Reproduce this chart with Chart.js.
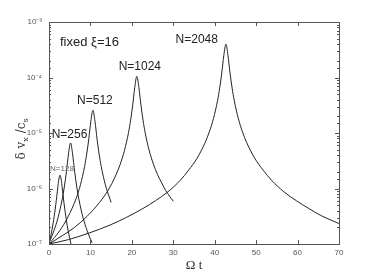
<!DOCTYPE html>
<html>
<head>
<meta charset="utf-8">
<script src="https://cdn.jsdelivr.net/npm/chart.js@4.4.1/dist/chart.umd.min.js"></script>
<style>
  html, body { margin: 0; padding: 0; background: #fff; }
  #wrap { width: 374px; height: 275px; }
</style>
</head>
<body>
<div id="wrap"><canvas id="chart"></canvas></div>
<script>
// Omega t (x) and delta v_x / c_s (y)
const xTickValues = [0, 10, 20, 30, 40, 50, 60, 70]
const yTickLabels = { "-7": "10⁻⁷", "-6": "10⁻⁶", "-5": "10⁻⁵", "-4": "10⁻⁴", "-3": "10⁻³" }

const t128 = [0, 0.5, 1, 1.5, 2, 2.3, 2.65, 3.0, 3.3, 3.65, 4.15, 4.65, 5.3]
const v128 = [1e-7, 1.48e-7, 2.4e-7, 4.27e-7, 8.7e-7, 1.35e-6, 1.74e-6, 1.35e-6, 8.7e-7, 5.25e-7, 2.82e-7, 1.7e-7, 1e-7]

const t256 = [0, 1.2, 2.2, 3.2, 3.7, 4.2, 4.7, 5.2, 5.7, 6.2, 6.7, 7.2, 8.2, 9.2, 10.4]
const v256 = [1.05e-7, 1.74e-7, 3.02e-7, 6.46e-7, 1.07e-6, 2.0e-6, 4.17e-6, 6.6e-6, 4.17e-6, 2.0e-6, 1.07e-6, 6.46e-7, 3.02e-7, 1.74e-7, 1.05e-7]

const t512 = [0, 2.6, 4.6, 6.6, 7.6, 8.6, 9.1, 9.6, 10.1, 10.6, 11.1, 11.6, 12.1, 12.6, 13.6, 15.0]
const v512 = [1e-7, 1.74e-7, 3.09e-7, 6.76e-7, 1.17e-6, 2.51e-6, 4.17e-6, 7.76e-6, 1.62e-5, 2.57e-5, 1.62e-5, 7.76e-6, 4.17e-6, 2.51e-6, 1.17e-6, 5.6e-7]

const t1024 = [0, 3.2, 6.2, 9.2, 12.2, 14.2, 16.2, 17.2, 18.2, 19.2, 19.7, 20.2, 20.7, 21.2, 21.7, 22.2, 22.7, 23.2, 24.2, 25.2, 26.2, 27.2, 28.2, 30.0]
const v1024 = [1e-7, 1.41e-7, 2.0e-7, 3.16e-7, 5.62e-7, 9.12e-7, 1.78e-6, 2.75e-6, 4.79e-6, 1.02e-5, 1.7e-5, 3.16e-5, 6.61e-5, 1.05e-4, 6.61e-5, 3.16e-5, 1.7e-5, 1.02e-5, 4.79e-6, 2.75e-6, 1.78e-6, 1.26e-6, 9.12e-7, 5.89e-7]

const t2048 = [0, 4.7, 9.7, 14.7, 18.7, 22.7, 25.7, 28.7, 31.7, 33.7, 35.7, 37.7, 38.7, 39.7, 40.7, 41.2, 41.7, 42.2, 42.7, 43.2, 43.7, 44.2, 44.7, 45.7, 46.7, 47.7, 49.7, 51.7, 53.7, 56.7, 59.7, 62.7, 65.7, 70]
const v2048 = [1e-7, 1.2e-7, 1.58e-7, 2.19e-7, 3.02e-7, 4.37e-7, 6.03e-7, 8.71e-7, 1.41e-6, 2.14e-6, 3.47e-6, 6.76e-6, 1.05e-5, 1.82e-5, 3.89e-5, 6.46e-5, 1.2e-4, 2.51e-4, 3.98e-4, 2.51e-4, 1.2e-4, 6.46e-5, 3.89e-5, 1.82e-5, 1.05e-5, 6.76e-6, 3.47e-6, 2.14e-6, 1.41e-6, 8.71e-7, 6.03e-7, 4.37e-7, 3.24e-7, 2.34e-7]

const seriesNames = ["N=128", "N=256", "N=512", "N=1024", "N=2048"]
const seriesTimes = [t128, t256, t512, t1024, t2048]
const seriesValues = [v128, v256, v512, v1024, v2048]

const toPoints = (ts, vs) => ts.map((t, i) => ({ x: t, y: vs[i] }))

// label placement relative to each peak: [dx, dy, align, size, color]
const peakLabelStyle = [
  [2, -6, "center", 8, "#666"],
  [-1, -8, "center", 12, "#222"],
  [2, -10, "center", 12, "#222"],
  [3, -10, "center", 12, "#222"],
  [-8, -5, "right", 12, "#222"]
]

const annotations = {
  id: "annotations",
  afterDatasetsDraw(chart) {
    const { ctx, chartArea, scales } = chart
    ctx.save()
    ctx.textBaseline = "middle"

    // peak labels
    seriesNames.forEach((name, i) => {
      const vals = seriesValues[i]
      const k = vals.indexOf(Math.max(...vals))
      const px = scales.x.getPixelForValue(seriesTimes[i][k])
      const py = scales.y.getPixelForValue(vals[k])
      const [dx, dy, align, size, color] = peakLabelStyle[i]
      ctx.font = size + "px 'Liberation Sans', Arial, sans-serif"
      ctx.fillStyle = color
      ctx.textAlign = align
      ctx.fillText(name, px + dx, py + dy)
    })

    ctx.font = "13px 'Liberation Sans', Arial, sans-serif"
    ctx.fillStyle = "#222"
    ctx.textAlign = "left"
    ctx.fillText("fixed ξ=16", chartArea.left + 11, chartArea.top + 20)

    // y axis title with subscripts
    ctx.translate(22, (chartArea.top + chartArea.bottom) / 2 + 6)
    ctx.rotate(-Math.PI / 2)
    ctx.fillStyle = "#333"
    ctx.textAlign = "left"
    const parts = [["δ v", 12, 0], ["x", 8, 4], [" /c", 12, 0], ["s", 8, 4]]
    let total = 0
    parts.forEach(([s, size]) => {
      ctx.font = size + "px 'DejaVu Serif', serif"
      total += ctx.measureText(s).width
    })
    let x = -total / 2
    parts.forEach(([s, size, shift]) => {
      ctx.font = size + "px 'DejaVu Serif', serif"
      ctx.fillText(s, x, shift)
      x += ctx.measureText(s).width
    })
    ctx.restore()
  }
}

const frameTicks = {
  id: "frameTicks",
  afterDraw(chart) {
    const { ctx, chartArea, scales } = chart
    const { left, right, top, bottom } = chartArea
    ctx.save()
    ctx.strokeStyle = "#555"
    ctx.lineWidth = 1
    ctx.strokeRect(Math.round(left) + 0.5, Math.round(top) + 0.5, Math.round(right - left), Math.round(bottom - top))

    ctx.beginPath()
    scales.x.ticks.forEach(tk => {
      const px = Math.round(scales.x.getPixelForValue(tk.value)) + 0.5
      ctx.moveTo(px, bottom); ctx.lineTo(px, bottom - 4)
      ctx.moveTo(px, top); ctx.lineTo(px, top + 4)
    })
    scales.y.ticks.forEach(tk => {
      const e = Math.log10(tk.value)
      const major = Math.abs(e - Math.round(e)) < 1e-6
      const len = major ? 4 : 2
      const py = Math.round(scales.y.getPixelForValue(tk.value)) + 0.5
      ctx.moveTo(left, py); ctx.lineTo(left + len, py)
      ctx.moveTo(right, py); ctx.lineTo(right - len, py)
    })
    ctx.stroke()
    ctx.restore()
  }
}

const config = {
  type: "line",
  data: {
    datasets: seriesNames.map((name, i) => ({
      label: name,
      data: toPoints(seriesTimes[i], seriesValues[i]),
      borderColor: "#222",
      borderWidth: 1,
      pointRadius: 0,
      tension: 0.3,
      cubicInterpolationMode: "monotone",
      fill: false
    }))
  },
  options: {
    responsive: true,
    maintainAspectRatio: false,
    animation: false,
    layout: {
      padding: { left: 0, top: 22, right: 35, bottom: 0 }
    },
    scales: {
      x: {
        type: "linear",
        min: 0,
        max: 70,
        afterBuildTicks: scale => {
          scale.ticks = xTickValues.map(v => ({ value: v }))
        },
        afterFit: scale => { scale.height = 31 },
        grid: { display: false, drawTicks: false },
        border: { display: false },
        ticks: {
          padding: 4,
          maxRotation: 0,
          color: "#555",
          font: { size: 8, family: "'Liberation Sans', Arial, sans-serif" }
        },
        title: {
          display: true,
          text: "Ω t",
          color: "#333",
          padding: { top: 0, bottom: 2 },
          font: { size: 13, family: "'Liberation Serif', 'Times New Roman', serif" }
        }
      },
      y: {
        type: "logarithmic",
        min: 1e-7,
        max: 1e-3,
        afterFit: scale => { scale.width = 49 },
        grid: { display: false, drawTicks: false },
        border: { display: false },
        ticks: {
          autoSkip: false,
          padding: 7,
          color: "#555",
          font: { size: 8, family: "'Liberation Sans', Arial, sans-serif" },
          callback: value => {
            const e = Math.log10(value)
            if (Math.abs(e - Math.round(e)) > 1e-6) return ""
            return yTickLabels[String(Math.round(e))] || ""
          }
        }
      }
    },
    plugins: {
      legend: { display: false },
      tooltip: { enabled: false }
    }
  },
  plugins: [annotations, frameTicks]
}

new Chart(document.getElementById("chart"), config)
</script>
</body>
</html>
